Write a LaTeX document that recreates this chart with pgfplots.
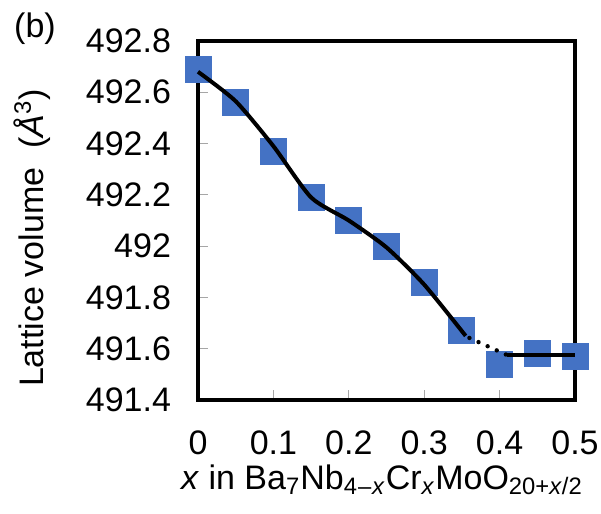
\documentclass[border=0pt]{standalone}
\usepackage{pgfplots}
\pgfplotsset{compat=1.18}
\usepackage{fontspec}
\setmainfont{Liberation Sans}
\definecolor{mblue}{HTML}{4472C4}
\begin{document}
\begin{tikzpicture}[x=1pt,y=1pt]
\path[use as bounding box] (0,0) rectangle (300.5,257);
\begin{axis}[
  at={(99pt,57pt)}, anchor=south west,
  width=188.5pt, height=179.5pt, scale only axis,
  xmin=0, xmax=0.5, ymin=491.4, ymax=492.8,
  xtick={0,0.1,0.2,0.3,0.4,0.5},
  ytick={491.4,491.6,491.8,492,492.2,492.4,492.6,492.8},
  xticklabels={0,0.1,0.2,0.3,0.4,0.5},
  yticklabels={491.4,491.6,491.8,492,492.2,492.4,492.6,492.8},
  tick align=inside, xtick pos=bottom, ytick pos=left,
  major tick length=5pt,
  tick style={gray!70, line width=0.6pt},
  axis line style={line width=2pt, black},
  ticklabel style={font=\fontsize{17}{20}\selectfont},
  yticklabel style={anchor=east, xshift=-10pt},
  xticklabel style={anchor=north, yshift=-12pt},
  xlabel={\textit{x} in Ba\textsubscript{7}Nb\textsubscript{4\kern0.5pt--\kern0.5pt\textit{x}}Cr\textsubscript{\textit{x}}MoO\textsubscript{20+\textit{x}/2}},
  ylabel={Lattice volume\ \ (\textit{Å}\textsuperscript{3})},
  label style={font=\fontsize{17}{20}\selectfont},
  xlabel style={at={(axis description cs:0.488,-0.223)}, anchor=center},
  ylabel style={at={(axis description cs:-0.44,0.451)}, anchor=center},
  clip=false,
  clip marker paths=true,
]
\addplot[only marks, mark=square*, mark size=6.5pt, mblue, mark options={draw=mblue, fill=mblue}] coordinates {
(0,492.69) (0.05,492.56) (0.1,492.37) (0.15,492.19) (0.2,492.10) (0.25,492.00) (0.3,491.86) (0.35,491.67) (0.4,491.54) (0.45,491.58) (0.5,491.57)
};
\addplot[black, line width=2pt, smooth, tension=0.4] coordinates {
(0,492.68) (0.05,492.565) (0.1,492.39) (0.15,492.19) (0.2,492.10) (0.25,491.995) (0.3,491.85) (0.355,491.65)
};
\addplot[black, line width=2.2pt, line cap=round, dash pattern=on 0pt off 5pt] coordinates {(0.36,491.642) (0.41,491.575)};
\addplot[black, line width=2pt] coordinates {(0.41,491.575) (0.5,491.575)};
\end{axis}
\node[font=\fontsize{17}{20}\selectfont] at (17.5,242.5) {(b)};
\end{tikzpicture}
\end{document}
